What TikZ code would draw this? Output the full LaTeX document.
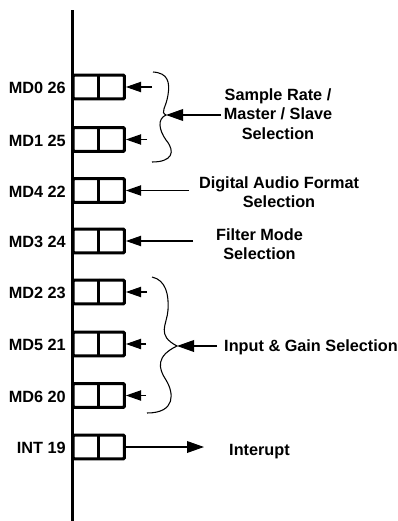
\documentclass[tikz,border=0pt]{standalone}
\usepackage{fontspec}
\setmainfont{Liberation Sans}
\usetikzlibrary{arrows.meta}
\begin{document}
\begin{tikzpicture}[x=0.75pt,y=-0.75pt,
  pinbox/.style={draw,line width=2.3pt,rounded corners=0.8pt,minimum width=38.4pt,minimum height=17.8pt,inner sep=0pt},
  pinlbl/.style={anchor=east,inner sep=0pt,font=\fontsize{12.2}{14.4}\selectfont\bfseries},
  txt/.style={align=center,inner sep=0pt,font=\fontsize{12.2}{14.4}\selectfont\bfseries},
  arr/.style={line width=0.8pt,-{Triangle[length=11.5pt,width=7.8pt]}},
  bigarr/.style={line width=0.8pt,-{Triangle[length=12.75pt,width=8.8pt]}},
  bracestyle/.style={line width=0.8pt},
  busline/.style={line width=2.3pt}]
\useasboundingbox (0,0) rectangle (398,521);
% bus
\coordinate (bustop) at (72.7,10);
\coordinate (busbot) at (72.7,521);
\draw[busline] (bustop) -- (busbot);
% pin boxes
\foreach \n/\y/\lab in {b0/87/MD0 26, b1/139.5/MD1 25, b2/190.5/MD4 22, b3/241/MD3 24, b4/292/MD2 23, b5/344/MD5 21, b6/395.5/MD6 20, b7/447/INT 19}{
  \node[pinbox] (\n) at (98.75,\y) {};
  \draw[line width=2.3pt] (\n.north) -- (\n.south);
  \node[pinlbl] (\n l) at (66,\y+1) {\lab};
}
% small arrows into boxes
\foreach \n/\x in {b0/152, b1/147, b2/189, b3/193, b4/147, b5/146, b6/146}{
  \coordinate (\n t) at (\x,0 |- \n.east);
  \draw[arr] (\n t) -- (\n.east);
}
% brace 1
\coordinate (tip1) at (166,115);
\draw[bracestyle] (153,72) .. controls (168,73) and (170,82) .. (168,95)
  .. controls (166,108) and (160,112) .. (tip1)
  .. controls (157,119) and (159,130) .. (166,140)
  .. controls (176,152) and (172,162) .. (152,162);
% brace 2
\coordinate (tip2) at (177,346);
\draw[bracestyle] (152,277) .. controls (166,280) and (169,295) .. (168,310)
  .. controls (167,325) and (156,335) .. (tip2)
  .. controls (156,356) and (158,368) .. (166,380)
  .. controls (174,393) and (176,413) .. (147,413);
% texts
\node[txt] (sr) at (278,114) {Sample Rate /\\Master / Slave\\Selection};
\node[txt] (daf) at (279,192.5) {Digital Audio Format\\Selection};
\node[txt] (fm) at (259.5,244.5) {Filter Mode\\Selection};
\node[txt] (ig) at (311,347) {Input \& Gain Selection};
\node[txt] (ir) at (259.5,452) {Interupt};
% brace arrows
\coordinate (t1) at (221,115);
\draw[bigarr] (t1) -- (tip1);
\coordinate (t2) at (217,346);
\draw[bigarr] (t2) -- (tip2);
% interrupt arrow
\coordinate (ie) at (204,0 |- b7.east);
\draw[bigarr] (b7.east) -- (ie);
\end{tikzpicture}
\end{document}
